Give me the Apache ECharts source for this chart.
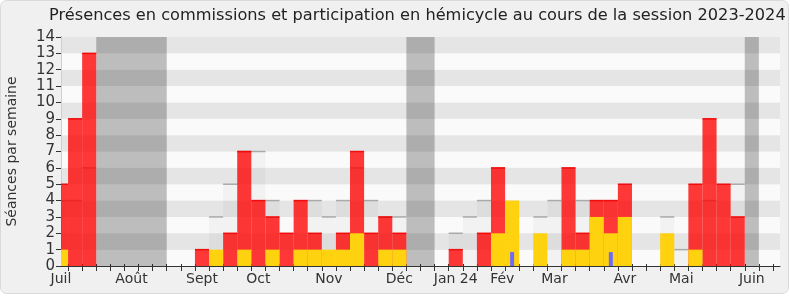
<!DOCTYPE html>
<html><head><meta charset="utf-8">
<script src="https://cdn.jsdelivr.net/npm/echarts@6/dist/echarts.min.js"></script>
<style>html,body{margin:0;padding:0;background:#ffffff}#c{width:790px;height:300px}</style>
</head><body><div id="c"></div><script>
// Weekly values, week 0 = first (half-visible) week of July 2023
const commission = [5,9,13,0,0,0,0,0,0,0,1,0,2,7,4,3,2,4,2,0,2,7,2,3,2,0,0,0,1,0,2,6,0,0,0,0,6,2,4,4,5,0,0,0,0,5,9,5,3,0,0,0];
const hemicycle  = [1,0,0,0,0,0,0,0,0,0,0,1,0,1,0,1,0,1,1,1,1,2,0,1,1,0,0,0,0,0,0,2,4,0,2,0,1,1,3,2,3,0,0,2,0,1,0,0,0,0,0,0];
const questions  = [0,0,0,0,0,0,0,0,0,0,0,0,0,0,0,0,0,0,0,0,0,0,0,0,0,0,0,0,0,0,0,0,0.85,0,0,0,0,0,0,0.85,0,0,0,0,0,0,0,0,0,0,0,0];
const median     = [4,4,6,0,0,0,0,0,0,0,0,3,5,7,7,4,0,0,4,3,4,6,4,3,3,0,0,0,2,3,4,0,0,0,3,4,0,4,0,0,0,0,0,3,1,0,4,0,5,0,0,0];
const vacations  = [[2.5,7.5],[24.5,26.5],[48.5,49.5]];
const monthNames = ['Juil','Août','Sept','Oct','Nov','Déc','Jan 24','Fév','Mar','Avr','Mai','Juin'];
const monthWeeks = [0,5,10,14,19,24,28,31.3,35,40,44,49];

const toData = arr => arr.map((v,i)=>[i,v]).filter(d=>d[1]>0);
const weekBounds = commission.slice(0,51).map((_,i)=>i+0.5);

function barRender(fill, frac, topLine){
  return function(params, api){
    const j = api.value(0), v = api.value(1);
    const h = frac/2;
    const p0 = api.coord([j-h, 0]);
    const p1 = api.coord([j+h, v]);
    const children = [{type:'rect', shape:{x:p0[0], y:p1[1], width:p1[0]-p0[0], height:p0[1]-p1[1]}, style:{fill:fill}}];
    if (topLine) children.push({type:'line', shape:{x1:p0[0], y1:p1[1], x2:p1[0], y2:p1[1]}, style:{stroke:topLine.color, lineWidth:topLine.width}});
    return {type:'group', children};
  };
}

const chart = echarts.init(document.getElementById('c'), null, {renderer:'canvas'});
chart.setOption({
  backgroundColor:'transparent',
  animation:false,
  graphic:[{type:'rect', z:-10, shape:{x:0.5,y:0.5,width:788,height:293,r:6}, style:{fill:'#f0f0f0', stroke:'#dadada', lineWidth:1}}],
  title:{text:'Présences en commissions et participation en hémicycle au cours de la session 2023-2024', left:44, top:3,
    textStyle:{fontFamily:'DejaVu Sans', fontSize:16.2, fontWeight:'normal', color:'#222'}},
  grid:{left:61, right:10, top:37, bottom:34, containLabel:false, outerBoundsMode:'none'},
  xAxis:[{type:'value', min:0, max:51, position:'bottom',
    axisLine:{show:true, lineStyle:{color:'#333', width:1}},
    axisTick:{show:true, customValues:weekBounds, length:5, lineStyle:{color:'#333'}},
    axisLabel:{show:true, customValues:monthWeeks, fontFamily:'DejaVu Sans', fontSize:14, color:'#333', margin:6,
      formatter:v=>{const k=monthWeeks.indexOf(v);return k>=0?monthNames[k]:'';}},
    splitLine:{show:false}},
   {type:'value', min:0, max:51, position:'top',
    axisLine:{show:false},
    axisTick:{show:true, customValues:weekBounds, length:2, lineStyle:{color:'#333'}},
    axisLabel:{show:false}, splitLine:{show:false}}],
  yAxis:[{type:'value', min:0, max:14, interval:1,
    name:'Séances par semaine', nameLocation:'middle', nameGap:42,
    nameTextStyle:{fontFamily:'DejaVu Sans', fontSize:14, color:'#333'},
    axisLine:{show:true, lineStyle:{color:'#333'}},
    axisTick:{show:true, length:5, lineStyle:{color:'#333'}},
    axisLabel:{fontFamily:'DejaVu Sans', fontSize:15, color:'#333', margin:6},
    splitLine:{show:false},
    splitArea:{show:true, areaStyle:{color:['#fafafa','#e5e5e5']}}},
   {type:'value', min:0, max:14, interval:1, position:'right',
    axisLine:{show:true, lineStyle:{color:'#cfcfcf'}}, axisTick:{show:false}, axisLabel:{show:false}, splitLine:{show:false}}],
  series:[
    {type:'custom', clip:true, z:1, data:vacations,
     renderItem:(params, api)=>{const a=api.coord([api.value(0),14]);const b=api.coord([api.value(1),0]);
       return {type:'rect', shape:{x:a[0],y:a[1],width:b[0]-a[0],height:b[1]-a[1]}, style:{fill:'rgba(0,0,0,0.245)'}};}},
    {type:'custom', clip:true, z:2, data:toData(median), renderItem:barRender('rgba(0,0,0,0.03)',1,{color:'#a9a9a9',width:1.5})},
    {type:'custom', clip:true, z:3, data:toData(commission), renderItem:barRender('rgba(255,0,0,0.78)',1,{color:'rgba(240,0,0,0.9)',width:1.5})},
    {type:'custom', clip:true, z:4, data:toData(hemicycle), renderItem:barRender('#ffd20f',1,null)},
    {type:'custom', clip:true, z:5, data:toData(questions), renderItem:barRender('#6a6aff',0.28,null)}
  ]
});
</script></body></html>
